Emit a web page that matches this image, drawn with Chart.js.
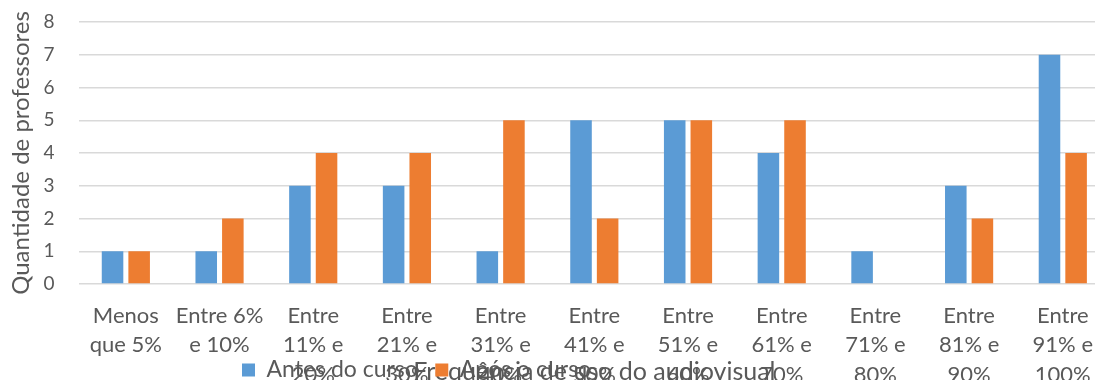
<!DOCTYPE html>
<html>
<head>
<meta charset="utf-8">
<script src="https://cdn.jsdelivr.net/npm/chart.js@4.4.1/dist/chart.umd.min.js"></script>
<style>
html, body { margin: 0; padding: 0; background: #fff; overflow: hidden; }
#wrap { width: 1095px; height: 380px; overflow: hidden; }
</style>
</head>
<body>
<div id="wrap"><canvas id="myChart" width="1110" height="420"></canvas></div>
<script>
const categories = [
    ['Menos', 'que 5%'],
    ['Entre 6%', 'e 10%'],
    ['Entre', '11% e', '20%'],
    ['Entre', '21% e', '30%'],
    ['Entre', '31% e', '40%'],
    ['Entre', '41% e', '50%'],
    ['Entre', '51% e', '60%'],
    ['Entre', '61% e', '70%'],
    ['Entre', '71% e', '80%'],
    ['Entre', '81% e', '90%'],
    ['Entre', '91% e', '100%']
];
const antesCurso = [1, 1, 3, 3, 1, 5, 5, 4, 1, 3, 7];
const aposCurso = [1, 2, 4, 4, 5, 2, 5, 5, 0, 2, 4];
const yMin = 0;
const yMax = 8;
const yStep = 1;

const font = 'Lato, "Open Sans", sans-serif';
const gray = '#595959';

// put the legend where excel left it (over the cut-off labels)
const moveLegend = {
    id: 'moveLegend',
    afterLayout(chart) {
        const lg = chart.legend;
        lg.left = 224.5;
        lg.right = 1100;
        lg.top = 341;
        lg.bottom = 420;
    }
};

var ctx = document.getElementById('myChart').getContext('2d');

var myChart = new Chart(ctx, { // eslint-disable-line
    type: 'bar',
    data: {
        labels: categories,
        datasets: [{
            label: 'Antes do curso',
            data: antesCurso,
            backgroundColor: '#5B9BD5',
            borderWidth: 0
        },
        {
            label: 'Após o curso',
            data: aposCurso,
            backgroundColor: '#ED7D31',
            borderWidth: 0
        }
        ]
    },
    plugins: [moveLegend],
    options: {
        responsive: false,
        animation: false,
        categoryPercentage: 0.568,
        barPercentage: 0.81,
        layout: { padding: 0 },
        plugins: {
            legend: {
                position: 'bottom',
                align: 'start',
                maxHeight: 1,
                labels: {
                    boxWidth: 13,
                    boxHeight: 13,
                    padding: 17.5,
                    color: gray,
                    font: { family: font, size: 23 }
                }
            },
            tooltip: { enabled: false }
        },
        scales: {
            x: {
                grid: { display: false, drawTicks: false },
                border: { display: false },
                ticks: {
                    color: gray,
                    font: { family: font, size: 22, lineHeight: 1.34 },
                    padding: 17,
                    maxRotation: 0,
                    autoSkip: false
                },
                title: {
                    display: true,
                    text: 'Frequência de uso do audiovisual',
                    color: gray,
                    font: { family: font, size: 25 },
                    padding: { top: 0, bottom: 32 }
                },
                afterFit(scale) { scale.height = 135; }
            },
            y: {
                min: yMin,
                max: yMax,
                ticks: {
                    stepSize: yStep,
                    color: gray,
                    font: { family: font, size: 19 },
                    padding: 10.6
                },
                grid: { color: '#d9d9d9', lineWidth: 1.5, drawTicks: true, tickLength: 14, tickColor: 'rgba(0,0,0,0)' },
                border: { display: false },
                title: {
                    display: true,
                    text: 'Quantidade de professores',
                    color: gray,
                    font: { family: font, size: 24 },
                    padding: { top: 7, bottom: 0 }
                },
                afterFit(scale) { scale.width = 79; }
            }
        }
    }
});
</script>
</body>
</html>
